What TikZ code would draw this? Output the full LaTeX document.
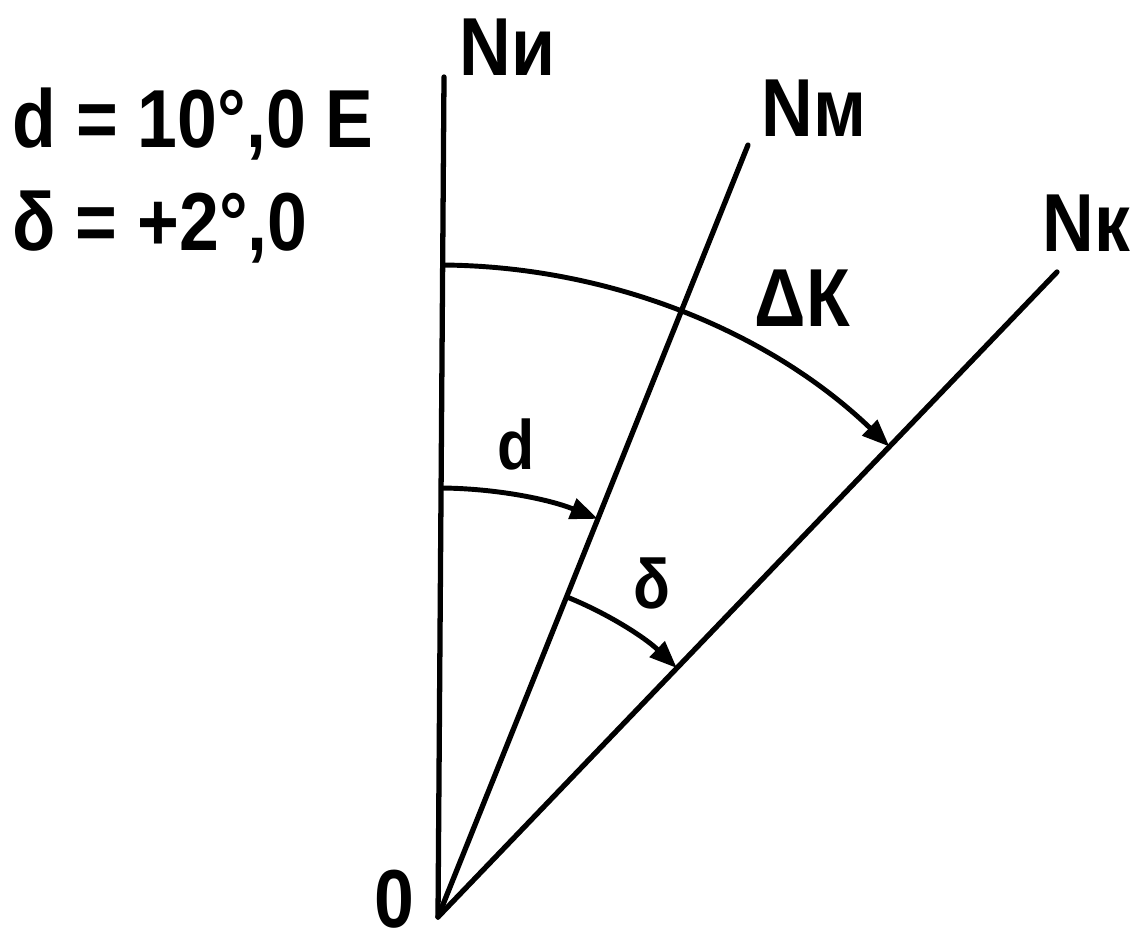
\documentclass[tikz,border=0pt]{standalone}
\usepackage{fontspec}
\setmainfont{Liberation Sans}[FakeStretch=0.87]
\usetikzlibrary{arrows.meta}
\begin{document}
\begin{tikzpicture}[x=0.01cm,y=0.01cm,
  ray/.style={line width=1.5pt, line cap=round},
  arcarrow/.style={line width=1.4pt, -{Triangle[length=7.8pt,width=6pt]}},
  biglab/.style={inner sep=0pt, anchor=base west, font=\bfseries\fontsize{23.4}{28}\selectfont},
  smalllab/.style={inner sep=0pt, anchor=base west, font=\bfseries\fontsize{19.9}{24}\selectfont}]
\useasboundingbox (0,0) rectangle (1142,937);
% origin and ray ends
\coordinate (O) at (438,20);
\coordinate (NiTop) at (444,860);
\coordinate (NmTop) at (748,792);
\coordinate (NkTop) at (1057,665);
% rays
\draw[ray] (O) -- (NiTop);
\draw[ray] (O) -- (NmTop);
\draw[ray] (O) -- (NkTop);
% arcs
\coordinate (dK0) at ([shift={(89.6:652)}]O);
\draw[arcarrow] (dK0) arc[start angle=89.6, end angle=46.18, radius=652];
\coordinate (d0) at ([shift={(89.6:429)}]O);
\draw[arcarrow] (d0) arc[start angle=89.6, end angle=68.13, radius=429];
\coordinate (del0) at ([shift={(68.13:345)}]O);
\draw[arcarrow] (del0) arc[start angle=68.13, end angle=46.18, radius=345];
% labels
\node[biglab] (lNi) at (459,861) {Nи};
\node[biglab] (lNm) at (761,800) {Nм};
\node[biglab] (lNk) at (1042,685) {Nк};
\node[biglab] (ldK) at (754,610) {ΔК};
\node[biglab] (ld1) at (12,789) {d = 10°,0 E};
\node[biglab] (ld2) at (12,686) {δ = +2°,0};
\node[biglab] (lO) at (374,9) {0};
\node[smalllab] (ld) at (497,467) {d};
\node[smalllab] (ldel) at (633,328) {δ};
\end{tikzpicture}
\end{document}
